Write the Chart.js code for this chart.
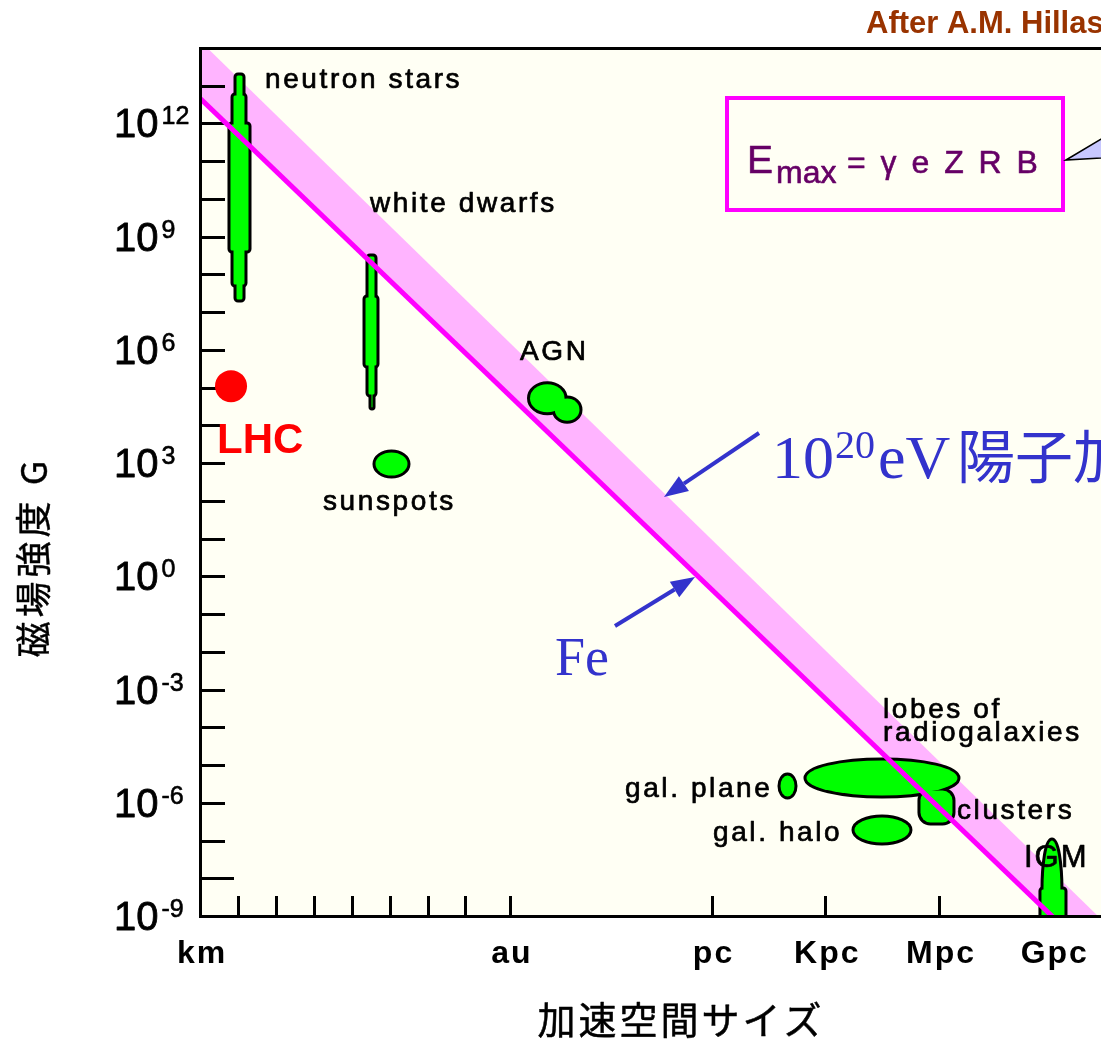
<!DOCTYPE html>
<html>
<head>
<meta charset="utf-8">
<script src="https://cdn.jsdelivr.net/npm/chart.js@4.4.1/dist/chart.umd.min.js"></script>
<style>
  html, body { margin: 0; padding: 0; background: #ffffff; }
  #wrap { width: 1101px; height: 1040px; }
</style>
</head>
<body>
<div id="wrap"><canvas id="c" width="1101" height="1040"></canvas></div>
<script>
// Length units in metres
const KM = 1e3, AU = 1.496e11, PC = 3.086e16, KPC = 3.086e19, MPC = 3.086e22, GPC = 3.086e25;

// Axis ranges: size R (m) and field B (gauss)
const xRange = [1e3, Math.pow(10, 26.761)];
const yRange = [1e-9, 1e14];

// x axis ticks: unlabelled decades plus named length units
const xDecadeTicks = [1e4, 1e5, 1e6, 1e7, 1e8, 1e9, 1e10];
const xNamedTicks = [KM, AU, PC, KPC, MPC, GPC];
const xNamedLabels = ['km', 'au', 'pc', 'Kpc', 'Mpc', 'Gpc'];

// y axis ticks: every decade, labelled every third decade
const yTickExps = [-8, -7, -6, -5, -4, -3, -2, -1, 0, 1, 2, 3, 4, 5, 6, 7, 8, 9, 10, 11, 12, 13];
const yLabelExps = [12, 9, 6, 3, 0, -3, -6, -9];

// Maximum-energy lines (E = 10^20 eV): log10 B at the two ends of the size range
const lineLogR = [3, 26.761];
const protonLogB = [14.19, -9.08];
const ironLogB = [12.67, -10.25];

// LHC: log10 R (m), log10 B (G)
const lhcLogR = 3.818;
const lhcLogB = 5.04;

// Source regions, each made of parts: [kind, log10 Rmin, log10 Rmax, log10 Bmin, log10 Bmax]
const neutronStars = [
  ['rect', 3.897, 4.187, 7.269, 13.337],
  ['rect', 3.818, 4.239, 7.667, 12.807],
  ['rect', 3.738, 4.345, 8.568, 12.039]
];
const whiteDwarfs = [
  ['rect', 7.378, 7.668, 4.752, 8.541],
  ['rect', 7.299, 7.720, 5.520, 7.455],
  ['rect', 7.457, 7.615, 4.407, 5.202]
];
const sunspots = [['ellipse', 7.562, 8.538, 2.606, 3.348]];
const agn = [
  ['ellipse', 11.637, 12.680, 4.280, 5.157],
  ['ellipse', 12.290, 13.074, 4.055, 4.780]
];
const galPlane = [['ellipse', 18.243, 18.744, -5.900, -5.211]];
const radioLobes = [['ellipse', 18.928, 23.042, -5.873, -4.813]];
const clusters = [['rrect', 21.934, 22.910, -6.589, -5.608]];
const galHalo = [['ellipse', 20.194, 21.776, -7.119, -6.324]];
const igm = [
  ['ellipse', 25.178, 25.758, -9.69, -6.933],
  ['rect', 25.125, 25.864, -9.24, -8.232]
];
const regions = [neutronStars, whiteDwarfs, sunspots, agn, galPlane, radioLobes, clusters, galHalo, igm];

// Colours
const BG = '#FFFFF4', BAND = '#FFB4FF', FE = '#FF00FF', GREEN = '#00FF00', BLUE = '#3333CC';
const SANS = '"Liberation Sans", Arial, sans-serif';
const SERIF = '"Liberation Serif", "Times New Roman", serif';
const CJK = '"Noto Sans CJK JP", "Noto Sans CJK SC", sans-serif';

const pt = (lr, lb) => ({ x: Math.pow(10, lr), y: Math.pow(10, lb) });

function drawText(ctx, s, x, y, o) {
  ctx.save();
  ctx.font = o.font;
  ctx.fillStyle = o.color || '#000';
  ctx.textAlign = o.align || 'left';
  ctx.textBaseline = o.baseline || 'alphabetic';
  ctx.letterSpacing = (o.ls || 0) + 'px';
  ctx.fillText(s, x, y);
  if (o.heavy) {
    ctx.strokeStyle = o.color || '#000';
    ctx.lineWidth = o.heavy;
    ctx.lineJoin = 'round';
    ctx.strokeText(s, x, y);
  }
  ctx.restore();
}

function arrow(ctx, x1, y1, x2, y2) {
  const ang = Math.atan2(y2 - y1, x2 - x1);
  const len = 24, half = 9;
  const bx = x2 - len * Math.cos(ang), by = y2 - len * Math.sin(ang);
  ctx.save();
  ctx.strokeStyle = BLUE; ctx.fillStyle = BLUE; ctx.lineWidth = 4;
  ctx.beginPath(); ctx.moveTo(x1, y1); ctx.lineTo(bx, by); ctx.stroke();
  ctx.beginPath();
  ctx.moveTo(x2, y2);
  ctx.lineTo(bx + half * Math.sin(ang), by - half * Math.cos(ang));
  ctx.lineTo(bx - half * Math.sin(ang), by + half * Math.cos(ang));
  ctx.closePath(); ctx.fill();
  ctx.restore();
}

function partPath(ctx, part, xs, ys, inset) {
  const [kind, r0, r1, b0, b1] = part;
  const xa = xs.getPixelForValue(Math.pow(10, r0)) + inset;
  const xb = xs.getPixelForValue(Math.pow(10, r1)) - inset;
  const ya = ys.getPixelForValue(Math.pow(10, b1)) + inset;
  const yb = ys.getPixelForValue(Math.pow(10, b0)) - inset;
  ctx.beginPath();
  if (kind === 'ellipse') {
    ctx.ellipse((xa + xb) / 2, (ya + yb) / 2, (xb - xa) / 2, (yb - ya) / 2, 0, 0, Math.PI * 2);
  } else {
    ctx.roundRect(xa, ya, xb - xa, yb - ya, kind === 'rrect' ? 10 : 1.5);
  }
}

function drawRegions(chart) {
  const { ctx, chartArea: a } = chart;
  const xs = chart.scales.x, ys = chart.scales.y;
  ctx.save();
  ctx.beginPath(); ctx.rect(a.left, a.top, a.right - a.left, a.bottom - a.top); ctx.clip();
  // outlines first, then fills, so touching parts merge into one shape
  ctx.strokeStyle = '#000'; ctx.lineWidth = 6; ctx.lineJoin = 'round';
  regions.forEach(parts => parts.forEach(p => { partPath(ctx, p, xs, ys, 2.5); ctx.stroke(); }));
  ctx.fillStyle = GREEN;
  regions.forEach(parts => parts.forEach(p => { partPath(ctx, p, xs, ys, 2.5); ctx.fill(); }));
  ctx.restore();
}

function drawTicks(chart) {
  const { ctx, chartArea: a } = chart;
  const xs = chart.scales.x, ys = chart.scales.y;
  ctx.save();
  ctx.strokeStyle = '#000'; ctx.lineWidth = 3; ctx.lineCap = 'butt';
  yTickExps.forEach(e => {
    const y = Math.round(ys.getPixelForValue(Math.pow(10, e))) + 0.5;
    ctx.beginPath(); ctx.moveTo(a.left, y); ctx.lineTo(a.left + (e === -8 ? 34 : 25), y); ctx.stroke();
  });
  xDecadeTicks.concat(xNamedTicks.slice(1)).forEach(v => {
    const x = Math.round(xs.getPixelForValue(v)) + 0.5;
    ctx.beginPath(); ctx.moveTo(x, a.bottom); ctx.lineTo(x, a.bottom - 20); ctx.stroke();
  });
  ctx.restore();
}

function drawAxesAndNotes(chart) {
  const { ctx, chartArea: a } = chart;
  const xs = chart.scales.x, ys = chart.scales.y;

  // frame
  ctx.save();
  ctx.strokeStyle = '#000'; ctx.lineWidth = 3;
  ctx.beginPath();
  ctx.moveTo(a.right + 2, a.top + 0.5); ctx.lineTo(a.left + 0.5, a.top + 0.5);
  ctx.lineTo(a.left + 0.5, a.bottom + 0.5); ctx.lineTo(a.right + 2, a.bottom + 0.5);
  ctx.stroke();
  ctx.restore();

  // y tick labels: 10 with raised exponent
  yLabelExps.forEach(e => {
    const y = ys.getPixelForValue(Math.pow(10, e));
    ctx.save();
    ctx.font = '40px ' + SANS;
    const w = ctx.measureText('10').width;
    ctx.restore();
    drawText(ctx, '10', 114, y + 14, { font: '40px ' + SANS, heavy: 0.8 });
    drawText(ctx, String(e), 114 + w + 3, y + 1, { font: '25px ' + SANS, heavy: 0.6 });
  });

  // x tick labels
  xNamedTicks.forEach((v, i) => {
    const x = xs.getPixelForValue(v);
    drawText(ctx, xNamedLabels[i], x + 2, 963, { font: 'bold 32px ' + SANS, align: 'center', ls: 2 });
  });

  // axis titles
  drawText(ctx, '加速空間サイズ', 681, 1020, { font: '38px ' + CJK, align: 'center', baseline: 'middle', ls: 3, heavy: 0.5 });
  ctx.save();
  ctx.translate(33, 557);
  ctx.rotate(-Math.PI / 2);
  drawText(ctx, '磁場強度 G', 0, 0, { font: '36px ' + CJK, align: 'center', baseline: 'middle', ls: 4, heavy: 0.4 });
  ctx.restore();

  // source labels
  const lab = { font: '28px ' + SANS, ls: 2.6, heavy: 0.7 };
  drawText(ctx, 'neutron stars', 265, 88, lab);
  drawText(ctx, 'white dwarfs', 370, 212, lab);
  drawText(ctx, 'AGN', 520, 360, lab);
  drawText(ctx, 'sunspots', 323, 510, lab);
  drawText(ctx, 'gal. plane', 625, 797, lab);
  drawText(ctx, 'gal. halo', 713, 841, lab);
  drawText(ctx, 'lobes of', 883, 718, lab);
  drawText(ctx, 'radiogalaxies', 883, 741, lab);
  drawText(ctx, 'clusters', 957, 819, lab);
  drawText(ctx, 'IGM', 1024, 867, { font: '31px ' + SANS, ls: 2, heavy: 0.7 });

  drawText(ctx, 'LHC', 217, 453, { font: 'bold 42px ' + SANS, color: '#FF0000' });

  // 10^20 eV proton and Fe annotations
  drawText(ctx, '10', 772, 478, { font: '62px ' + SERIF, color: BLUE });
  drawText(ctx, '20', 835, 458, { font: '40px ' + SERIF, color: BLUE });
  drawText(ctx, 'eV', 878, 478, { font: '62px ' + SERIF, color: BLUE });
  drawText(ctx, '陽子加', 957, 478, { font: '58px ' + CJK, color: BLUE });
  arrow(ctx, 759, 433, 664, 497);
  drawText(ctx, 'Fe', 555, 675, { font: '54px ' + SERIF, color: BLUE });
  arrow(ctx, 615, 626, 695, 577);

  // formula box with callout
  ctx.save();
  ctx.strokeStyle = FE; ctx.lineWidth = 4;
  ctx.fillStyle = BG;
  ctx.fillRect(727, 98, 336, 112);
  ctx.strokeRect(727, 98, 336, 112);
  ctx.beginPath();
  ctx.moveTo(1066, 160); ctx.lineTo(1140, 116); ctx.lineTo(1140, 156); ctx.closePath();
  ctx.fillStyle = '#C8C8FF'; ctx.fill();
  ctx.strokeStyle = '#000'; ctx.lineWidth = 1.5; ctx.stroke();
  ctx.restore();
  const PUR = '#660066';
  drawText(ctx, 'E', 747, 173, { font: '39px ' + SANS, color: PUR, heavy: 0.6 });
  drawText(ctx, 'max', 776, 183, { font: '32px ' + SANS, color: PUR, heavy: 0.6 });
  drawText(ctx, '= γ e Z R B', 847, 173, { font: '32px ' + SANS, color: PUR, ls: 3, heavy: 0.6 });

  drawText(ctx, 'After A.M. Hillas', 866, 33, { font: 'bold 31px ' + SANS, color: '#993300' });
}

const hillasPlugin = {
  id: 'hillas',
  beforeDraw(chart) {
    const { ctx, chartArea: a } = chart;
    ctx.save();
    ctx.fillStyle = '#ffffff'; ctx.fillRect(0, 0, chart.width, chart.height);
    ctx.fillStyle = BG; ctx.fillRect(a.left, a.top, a.right - a.left, a.bottom - a.top);
    ctx.restore();
  },
  beforeDatasetDraw(chart, args) {
    if (args.index !== 1) return;
    drawTicks(chart);
    drawRegions(chart);
  },
  afterDatasetsDraw(chart) {
    drawAxesAndNotes(chart);
  }
};

const chart = new Chart(document.getElementById('c'), {
  type: 'line',
  data: {
    datasets: [
      { label: '10^20 eV proton', data: lineLogR.map((r, i) => pt(r, protonLogB[i])),
        borderWidth: 0, borderColor: 'rgba(0,0,0,0)', pointRadius: 0, fill: '+1', backgroundColor: BAND, order: 3 },
      { label: 'Fe', data: lineLogR.map((r, i) => pt(r, ironLogB[i])),
        borderColor: FE, borderWidth: 5, pointRadius: 0, fill: false, order: 2 },
      { label: 'LHC', data: [pt(lhcLogR, lhcLogB)], showLine: false,
        pointRadius: 16, pointBackgroundColor: '#FF0000', pointBorderWidth: 0, order: 1 }
    ]
  },
  options: {
    responsive: false,
    animation: false,
    devicePixelRatio: 1,
    layout: { autoPadding: false, padding: { left: 200, top: 48, right: 0, bottom: 124 } },
    plugins: { legend: { display: false }, tooltip: { enabled: false } },
    scales: {
      x: { type: 'logarithmic', min: xRange[0], max: xRange[1], display: false },
      y: { type: 'logarithmic', min: yRange[0], max: yRange[1], display: false }
    }
  },
  plugins: [hillasPlugin]
});

if (document.fonts && document.fonts.ready) {
  document.fonts.ready.then(() => chart.draw());
}
</script>
</body>
</html>
